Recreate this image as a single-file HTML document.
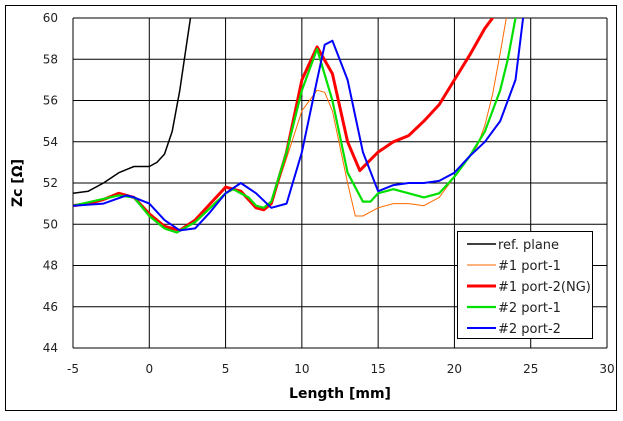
<!DOCTYPE html>
<html><head><meta charset="utf-8"><style>
body{margin:0;background:#fff;font-family:"Liberation Sans","DejaVu Sans",sans-serif;}
svg text{font-family:"DejaVu Sans","Liberation Sans",sans-serif;}
</style></head><body>
<svg id="c" width="623" height="416" xmlns="http://www.w3.org/2000/svg">
<rect x="5.5" y="5.5" width="611" height="405" fill="#fff" stroke="#000"/>
<defs><clipPath id="clip"><rect x="73" y="18" width="534" height="330"/></clipPath></defs>
<g id="grid"></g><g id="series" clip-path="url(#clip)"></g><g id="ticks"></g>
<text x="22" y="183" transform="rotate(-90 22 183)" text-anchor="middle" font-size="14" font-weight="bold">Zc [Ω]</text>
<text x="340" y="398" text-anchor="middle" font-size="14" font-weight="bold">Length [mm]</text>
<g id="legend"></g>
</svg>
<script>
const xTicks=[-5,0,5,10,15,20,25,30];
const yTicks=[44,46,48,50,52,54,56,58,60];
const names=["ref. plane","#1 port-1","#1 port-2(NG)","#2 port-1","#2 port-2"];
const colors=["#000","#ff6a00","#ff0000","#00e000","#0000ff"];
const widths=[1.5,1,3,2.2,2];
const refX=[-5,-4,-3,-2,-1,0,0.5,1,1.5,2,2.5,2.8];
const refY=[51.5,51.6,52.0,52.5,52.8,52.8,53.0,53.4,54.5,56.5,59,60.5];
const p11X=[-5,-4,-3,-2,-1,0,1,2,3,4,5,6,7,7.5,8,9,10,11,11.5,12,13,13.5,14,15,16,17,18,19,20,21,21.5,22,22.5,23,23.4,23.6];
const p11Y=[50.9,51.0,51.2,51.5,51.3,50.5,49.9,49.7,50.2,51.0,51.8,51.6,50.8,50.7,51.0,53.2,55.5,56.5,56.4,55.5,52,50.4,50.4,50.8,51.0,51.0,50.9,51.3,52.3,53.3,53.8,54.8,56.3,58.3,60,61];
const p12X=[-5,-4,-3,-2,-1,0,1,2,3,4,5,6,7,7.5,8,9,10,11,12,13,13.8,15,16,17,18,19,20,21,22,22.5,22.8];
const p12Y=[50.9,51.0,51.2,51.5,51.3,50.5,49.9,49.7,50.2,51.0,51.8,51.6,50.8,50.7,51.0,53.5,57,58.6,57.3,54,52.6,53.5,54.0,54.3,55.0,55.8,57.0,58.2,59.5,60,60.5];
const p21X=[-5,-2,-1,0,1,1.8,3,4,5,5.5,6.5,7,7.5,8,9,10,11,12,13,14,14.5,15,16,17,18,19,20,21,22,23,23.5,24,24.2];
const p21Y=[50.9,51.4,51.3,50.4,49.8,49.6,50.1,50.8,51.5,51.7,51.3,50.9,50.8,51.1,53.5,56.5,58.5,56,52.5,51.1,51.1,51.5,51.7,51.5,51.3,51.5,52.3,53.3,54.5,56.5,58,60,61];
const p22X=[-5,-3,-1.5,-1,0,1,2,3,4,5,6,7,8,9,10,11,11.5,12,13,14,15,16,17,18,19,20,21,22,23,24,24.5,24.7];
const p22Y=[50.9,51.0,51.4,51.3,51.0,50.2,49.7,49.8,50.6,51.5,52.0,51.5,50.8,51.0,53.5,57,58.7,58.9,57,53.5,51.6,51.9,52.0,52.0,52.1,52.5,53.3,54.0,55.0,57,60,61];
const xs=[refX,p11X,p12X,p21X,p22X], ys=[refY,p11Y,p12Y,p21Y,p22Y];
const X0=73,X1=607,Y0=348,Y1=18;
const sx=v=>X0+(v+5)/35*(X1-X0), sy=v=>Y0-(v-44)/16*(Y0-Y1);
const NS="http://www.w3.org/2000/svg";
function mk(t,a,p){const e=document.createElementNS(NS,t);for(const k in a)e.setAttribute(k,a[k]);p.appendChild(e);return e;}
const grid=document.getElementById('grid'),tk=document.getElementById('ticks');
xTicks.forEach(v=>{const l=mk('line',{x1:sx(v),x2:sx(v),y1:Y1,y2:Y0,stroke:'#000','stroke-width':1},grid);


const t=mk('text',{x:sx(v),y:373,'text-anchor':'middle','font-size':12,fill:'#222'},tk);t.textContent=v;

});
yTicks.forEach(v=>{const l=mk('line',{x1:X0,x2:X1,y1:sy(v),y2:sy(v),stroke:'#000','stroke-width':1},grid);


const t=mk('text',{x:58,y:sy(v)+4,'text-anchor':'end','font-size':12,fill:'#222'},tk);t.textContent=v;

});
const ser=document.getElementById('series');
xs.forEach((xa,i)=>{const d=xa.map((x,j)=>(j?'L':'M')+sx(x).toFixed(1)+' '+sy(ys[i][j]).toFixed(1)).join(' ');
const p=mk('path',{d:d,fill:'none',stroke:colors[i],'stroke-width':widths[i],'stroke-linejoin':'round'},ser);

});
const lg=document.getElementById('legend');
const box=mk('rect',{x:457.5,y:231.5,width:135,height:107,fill:'#fff',stroke:'#000'},lg);


names.forEach((n,i)=>{const y=244+i*21;
const l=mk('line',{x1:467,x2:496,y1:y,y2:y,stroke:colors[i],'stroke-width':widths[i]},lg);


const t=mk('text',{x:498,y:y+5,'font-size':13,fill:'#222'},lg);t.textContent=n;

});
</script>
</body></html>
